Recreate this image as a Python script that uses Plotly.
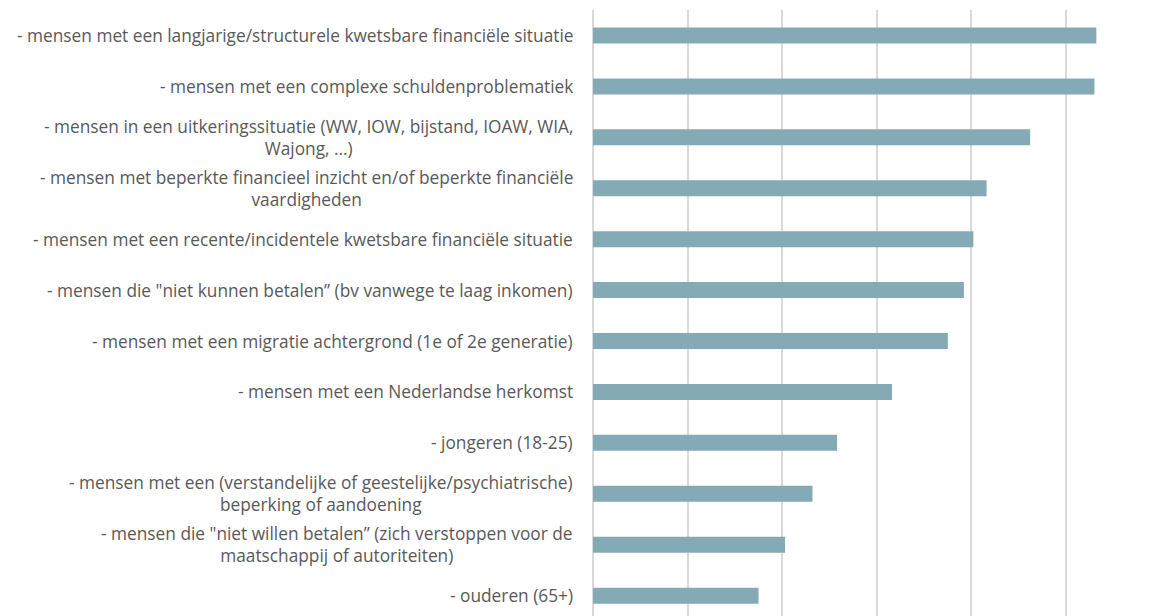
import plotly.graph_objects as go

categories = [
    "- mensen met een langjarige/structurele kwetsbare financiële situatie",
    "- mensen met een complexe schuldenproblematiek",
    "- mensen in een uitkeringssituatie (WW, IOW, bijstand, IOAW, WIA,<br>Wajong, ...)",
    "- mensen met beperkte financieel inzicht en/of beperkte financiële<br>vaardigheden",
    "- mensen met een recente/incidentele kwetsbare financiële situatie",
    "- mensen die \"niet kunnen betalen\u201d (bv vanwege te laag inkomen)",
    "- mensen met een migratie achtergrond (1e of 2e generatie)",
    "- mensen met een Nederlandse herkomst",
    "- jongeren (18-25)",
    "- mensen met een (verstandelijke of geestelijke/psychiatrische)<br>beperking of aandoening",
    "- mensen die \"niet willen betalen\u201d (zich verstoppen voor de<br>maatschappij of autoriteiten)",
    "- ouderen (65+)",
]
values = [53.2, 53.0, 46.2, 41.6, 40.2, 39.2, 37.5, 31.6, 25.8, 23.2, 20.3, 17.5]

ids = list(range(len(categories)))

fig = go.Figure()
fig.add_bar(
    x=values,
    y=ids,
    orientation="h",
    marker=dict(color="#84abb5", line=dict(width=0)),
    hoverinfo="x",
)

# category labels as centred multi-line annotations (like the source chart)
for i, label in enumerate(categories):
    fig.add_annotation(
        x=0, xref="paper", xanchor="right", xshift=-18,
        y=i, yref="y", yanchor="middle",
        text=label, showarrow=False, align="center",
        font=dict(family="Open Sans", size=17.3, color="#595959"),
    )

# page body adds an 8px offset, so the figure is a bit smaller
fig.update_layout(
    width=1142,
    height=608,
    margin=dict(l=585, r=0, t=2, b=0),
    paper_bgcolor="white",
    plot_bgcolor="white",
    bargap=0.686,
    showlegend=False,
    xaxis=dict(
        range=[0, 58.87],
        dtick=10,
        showticklabels=False,
        showgrid=True,
        gridcolor="#d9d9d9",
        gridwidth=1.5,
        zeroline=True,
        zerolinecolor="#d9d9d9",
        zerolinewidth=1.5,
    ),
    yaxis=dict(
        range=[11.4, -0.5],
        showticklabels=False,
        showgrid=False,
        zeroline=False,
    ),
)

fig.write_html("out.html")
